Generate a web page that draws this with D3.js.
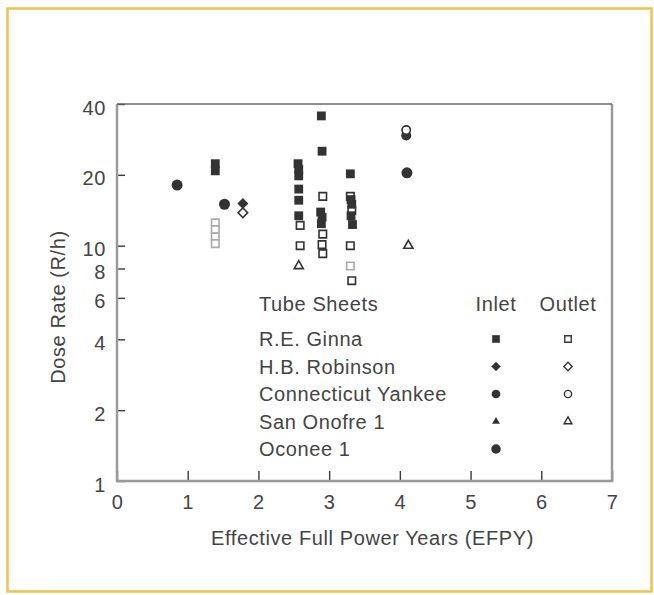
<!DOCTYPE html>
<html>
<head>
<meta charset="utf-8">
<script src="https://cdn.jsdelivr.net/npm/d3@7"></script>
<style>
  body { margin: 0; background: #fff; }
  svg text { font-family: "Liberation Sans", Arial, sans-serif; fill: #444; letter-spacing: 0.6px; }
</style>
</head>
<body>
<svg id="chart" width="654" height="595"></svg>
<script>

// 値は図から読み取った推定値 [EFPY, R/h]
const plants = ["R.E. Ginna", "H.B. Robinson", "Connecticut Yankee", "San Onofre 1", "Oconee 1"];
const columns = ["Inlet", "Outlet"];
const xTicks = [0, 1, 2, 3, 4, 5, 6, 7];
const yTicks = [1, 2, 4, 6, 8, 10, 20, 40];

const ginnaInlet = [
  [1.39, 22.3], [1.39, 20.8],
  [2.56, 22.3], [2.57, 21.1], [2.57, 19.8], [2.57, 17.4], [2.57, 15.6], [2.57, 13.4],
  [2.89, 35.6], [2.90, 25.2], [2.88, 13.9], [2.90, 13.2], [2.89, 12.4],
  [3.30, 20.2], [3.31, 15.7], [3.32, 15.0], [3.31, 13.4], [3.33, 12.3]
];
const ginnaOutlet = [
  [2.59, 12.2], [2.59, 10.0],
  [2.91, 16.2], [2.91, 11.2], [2.90, 10.1], [2.91, 9.25],
  [3.30, 16.2], [3.32, 14.1], [3.30, 10.0], [3.32, 7.1]
];
// 印刷がかすれて薄く見える点
const ginnaOutletFaded = [
  [1.39, 12.5], [1.39, 11.7], [1.39, 10.9], [1.39, 10.2], [3.30, 8.2]
];
const robinsonInlet = [[1.78, 15.1]];
const robinsonOutlet = [[1.78, 13.8]];
const yankeeInlet = [[4.09, 29.4]];
const yankeeOutlet = [[4.09, 31.0]];
const onofreInlet = [];
const onofreOutlet = [[2.57, 8.2], [4.12, 10.0]];
const oconeeInlet = [[0.85, 18.1], [1.52, 15.0], [4.10, 20.4]];

const svg = d3.select("#chart");
const margin = {top: 104, right: 42, bottom: 114, left: 117};
const width = 654, height = 595;

// 外枠 ( オレンジ )
svg.append("rect")
  .attr("x", 7.5).attr("y", 8.5)
  .attr("width", 644).attr("height", 583)
  .attr("fill", "#fff")
  .attr("stroke", "#f0c24a")
  .attr("stroke-width", 2.5);

// スケール
const x = d3.scaleLinear()
  .domain([0, 7])
  .range([margin.left, width - margin.right]);
const y = d3.scaleLog()
  .domain([1, 40])
  .range([height - margin.bottom, margin.top]);

const y0 = y(1), y1 = y(40), x0 = x(0), x1 = x(7);

// 軸
const xAxis = svg.append("g")
  .attr("transform", `translate(0,${y0})`)
  .call(d3.axisBottom(x)
    .tickValues(xTicks)
    .tickSize(-10)
    .tickPadding(10)
    .tickFormat(d3.format("d")));

const yAxis = svg.append("g")
  .attr("transform", `translate(${x0},0)`)
  .call(d3.axisLeft(y)
    .tickValues(yTicks)
    .tickSize(-8)
    .tickPadding(11)
    .tickFormat(d3.format("d")));

[xAxis, yAxis].forEach(a => {
  a.select(".domain").remove();
  a.selectAll("line").attr("stroke", "#3a3a3a").attr("stroke-width", 1.4);
  a.selectAll("text")
    .style("font-size", "20px")
    .attr("fill", "#444");
});
xAxis.selectAll("text").attr("dy", "0.9em");
yAxis.selectAll("text").attr("dy", "0.5em");

// 枠線
svg.append("path")
  .attr("d", `M${x0},${y1} L${x0},${y0} L${x1},${y0} L${x1},${y1}`)
  .attr("fill", "none")
  .attr("stroke", "#9a9a9a")
  .attr("stroke-width", 2.5);
svg.append("line")
  .attr("x1", x0).attr("x2", x1)
  .attr("y1", y1).attr("y2", y1)
  .attr("stroke", "#6a6a6a")
  .attr("stroke-width", 1.4);

// 軸ラベル
svg.append("text")
  .attr("x", (x0 + x1) / 2 + 8)
  .attr("y", 545)
  .attr("text-anchor", "middle")
  .style("font-size", "20px")
  .text("Effective Full Power Years (EFPY)");

svg.append("text")
  .attr("transform", "translate(65,307) rotate(-90)")
  .attr("text-anchor", "middle")
  .style("font-size", "20px")
  .text("Dose Rate (R/h)");

// マーカーの定義
const ink = "#333";
const markers = {
  squareFill: {type: d3.symbolSquare, size: 78, fill: ink, stroke: "none", rotate: 0},
  squareOpen: {type: d3.symbolSquare, size: 56, fill: "#fff", stroke: ink, rotate: 0},
  squareFaded: {type: d3.symbolSquare, size: 56, fill: "#fff", stroke: "#aaa", rotate: 0},
  diamondFill: {type: d3.symbolSquare, size: 60, fill: ink, stroke: "none", rotate: 45},
  diamondOpen: {type: d3.symbolSquare, size: 46, fill: "#fff", stroke: ink, rotate: 45},
  circleFill: {type: d3.symbolCircle, size: 80, fill: ink, stroke: "none", rotate: 0},
  circleOpen: {type: d3.symbolCircle, size: 55, fill: "#fff", stroke: ink, rotate: 0},
  triangleFill: {type: d3.symbolTriangle, size: 36, fill: ink, stroke: "none", rotate: 0},
  triangleOpen: {type: d3.symbolTriangle, size: 36, fill: "#fff", stroke: ink, rotate: 0},
  oconee: {type: d3.symbolCircle, size: 95, fill: ink, stroke: "none", rotate: 0}
};

function drawPoints(data, key) {
  const m = markers[key];
  svg.append("g")
    .selectAll("path")
    .data(data)
    .join("path")
    .attr("d", d3.symbol().type(m.type).size(m.size))
    .attr("transform", d => `translate(${x(d[0])},${y(d[1])}) rotate(${m.rotate})`)
    .attr("fill", m.fill)
    .attr("stroke", m.stroke)
    .attr("stroke-width", 1.6);
}

drawPoints(ginnaOutletFaded, "squareFaded");
drawPoints(ginnaOutlet, "squareOpen");
drawPoints(ginnaInlet, "squareFill");
drawPoints(robinsonOutlet, "diamondOpen");
drawPoints(robinsonInlet, "diamondFill");
drawPoints(oconeeInlet, "oconee");
drawPoints(yankeeInlet, "circleFill");
drawPoints(yankeeOutlet, "circleOpen");
drawPoints(onofreInlet, "triangleFill");
drawPoints(onofreOutlet, "triangleOpen");

// 凡例
const legendKeys = [
  ["squareFill", "squareOpen"],
  ["diamondFill", "diamondOpen"],
  ["circleFill", "circleOpen"],
  ["triangleFill", "triangleOpen"],
  ["oconee", null]
];
const legendX = 259, colX = [496, 568];
const headY = 304, rowY0 = 339, rowStep = 27.5;

const legend = svg.append("g");
legend.append("text")
  .attr("x", legendX).attr("y", headY)
  .attr("dy", "0.36em")
  .style("font-size", "20px")
  .text("Tube Sheets");
legend.selectAll(".col")
  .data(columns)
  .join("text")
  .attr("x", (d, i) => colX[i])
  .attr("y", headY)
  .attr("dy", "0.36em")
  .attr("text-anchor", "middle")
  .style("font-size", "20px")
  .text(d => d);

plants.forEach((p, i) => {
  const cy = rowY0 + i * rowStep;
  legend.append("text")
    .attr("x", legendX).attr("y", cy)
    .attr("dy", "0.36em")
    .style("font-size", "20px")
    .text(p);
  legendKeys[i].forEach((k, j) => {
    if (!k) return;
    const m = markers[k];
    legend.append("path")
      .attr("d", d3.symbol().type(m.type).size(m.size * 0.75))
      .attr("transform", `translate(${colX[j]},${cy}) rotate(${m.rotate})`)
      .attr("fill", m.fill)
      .attr("stroke", m.stroke)
      .attr("stroke-width", 1.4);
  });
});

</script>
</body>
</html>
